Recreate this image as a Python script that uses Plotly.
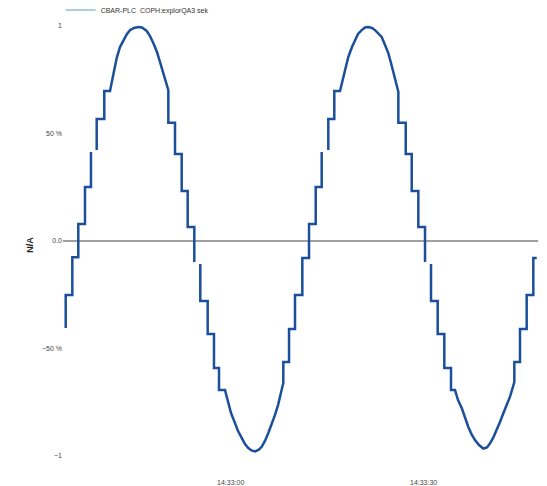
import plotly.graph_objects as go

# time in seconds relative to 14:33:00, value (normalised); None = gap in the record
t_sec = [
    -25.66, -25.66, -24.63, -24.63, -23.70, -23.70, -22.66, -22.66, -21.73, -21.73, None,
    -20.84, -20.84, -19.66, -19.66, -18.77,
    -18.46, -17.73, -17.22, -16.70, -16.13, -15.66, -15.04, -14.37, -13.79, -13.06,
    -12.55, -12.04, -11.46, -11.00, -10.37, -9.70,
    -9.70, -8.66, -8.66, -7.62, -7.62, -6.69, -6.69, -5.66, -5.66, None,
    -4.73, -4.73, -3.58, -3.58, -2.60, -2.60, -1.82, -1.82, -0.89,
    -0.37, 0.05, 0.67, 1.14, 1.71, 2.22, 2.74, 3.23, 3.78, 4.32, 4.82, 5.33, 5.85,
    6.35, 6.89, 7.36, 7.67, 8.18,
    8.18, 9.07, 9.07, 10.00, 10.00, 11.14, 11.14, 12.18, 12.18, 13.22, 13.22, 14.15, 14.15, None,
    15.18, 15.18, 16.11, 16.11, 17.00,
    17.51, 17.93, 18.29, 18.86, 19.33, 19.80, 20.37, 20.89, 21.40, 21.98, 22.44, 22.91,
    23.48, 24.00, 24.51, 24.93, 25.29, 25.71, 26.07,
    26.07, 27.22, 27.22, 28.15, 28.15, 29.18, 29.18, 30.22, 30.22, None,
    31.15, 31.15, 32.19, 32.19, 33.22, 33.22, 34.26, 34.26, 34.88,
    35.35, 35.93, 36.44, 36.95, 37.45, 37.99, 38.62, 39.28, 39.86, 40.33, 40.87, 41.37,
    41.88, 42.40, 42.89, 43.44, 44.11,
    44.11, 44.99, 44.99, 46.03, 46.03, 47.06, 47.06, 47.59,
]
value = [
    -0.405, -0.251, -0.251, -0.075, -0.075, 0.079, 0.079, 0.251, 0.251, 0.414, None,
    0.423, 0.567, 0.567, 0.698, 0.698,
    0.749, 0.851, 0.902, 0.935, 0.963, 0.981, 0.991, 0.995, 0.993, 0.977,
    0.953, 0.921, 0.879, 0.833, 0.772, 0.702,
    0.550, 0.550, 0.405, 0.405, 0.233, 0.233, 0.065, 0.065, -0.098, None,
    -0.107, -0.279, -0.279, -0.433, -0.433, -0.591, -0.591, -0.693, -0.693,
    -0.753, -0.800, -0.847, -0.884, -0.916, -0.944, -0.963, -0.974, -0.979, -0.972,
    -0.957, -0.930, -0.893, -0.856, -0.809, -0.763, -0.726, -0.660,
    -0.563, -0.563, -0.409, -0.409, -0.251, -0.251, -0.079, -0.079, 0.079, 0.079,
    0.251, 0.251, 0.414, None,
    0.423, 0.567, 0.567, 0.698, 0.698,
    0.763, 0.819, 0.856, 0.902, 0.935, 0.963, 0.981, 0.993, 0.995, 0.991, 0.981, 0.967,
    0.949, 0.912, 0.874, 0.828, 0.781, 0.740, 0.694,
    0.550, 0.550, 0.405, 0.405, 0.233, 0.233, 0.065, 0.065, -0.098, None,
    -0.107, -0.279, -0.279, -0.433, -0.433, -0.591, -0.591, -0.693, -0.693,
    -0.740, -0.777, -0.823, -0.865, -0.898, -0.926, -0.949, -0.965, -0.960, -0.941,
    -0.912, -0.879, -0.842, -0.801, -0.763, -0.724, -0.656,
    -0.563, -0.563, -0.409, -0.409, -0.251, -0.251, -0.079, -0.079,
]

series_name = "CBAR-PLC  COPH:explorQA3 sek"
x_tick_vals = [0, 30]
x_tick_text = ["14:33:00", "14:33:30"]
y_tick_vals = [1, 0.5, 0, -0.5, -1]
y_tick_text = ["1", "50 %", "0.0", "\u221250 %", "\u22121"]
y_title = "N/A"

fig = go.Figure()
fig.add_trace(go.Scatter(
    x=t_sec, y=value, mode="lines", showlegend=False, connectgaps=False,
    line=dict(color="#1b4f9b", width=2.5),
))
# legend entry (drawn lighter in the reference)
fig.add_trace(go.Scatter(
    x=[None], y=[None], mode="lines", name=series_name,
    line=dict(color="#a9d0ea", width=2),
))

fig.update_layout(
    width=547, height=486,
    margin=dict(l=55, r=17, t=12, b=24, autoexpand=False),
    paper_bgcolor="white", plot_bgcolor="white",
    font=dict(family="Liberation Sans, Arial, sans-serif", size=7, color="#444"),
    showlegend=True,
    legend=dict(x=-0.005, y=1.022, xanchor="left", yanchor="middle", orientation="h",
                font=dict(size=7, color="#333"), bgcolor="rgba(0,0,0,0)",
                itemwidth=30),
)
fig.update_xaxes(
    range=[-26.08, 47.79], tickmode="array", tickvals=x_tick_vals, ticktext=x_tick_text,
    showgrid=False, zeroline=False, showline=False, ticks="", automargin=False,
    ticklabelstandoff=7, tickfont=dict(size=7, color="#444"),
)
fig.update_yaxes(
    range=[-1.065, 1.028], tickmode="array", tickvals=y_tick_vals, ticktext=y_tick_text,
    showgrid=False, zeroline=True, zerolinecolor="#a0a0a0", zerolinewidth=2,
    showline=False, ticks="", tickfont=dict(size=7, color="#444"), automargin=False,
    title=dict(text="<b>" + y_title + "</b>", font=dict(size=9, color="#222"), standoff=6),
)

fig.write_html("out.html")
